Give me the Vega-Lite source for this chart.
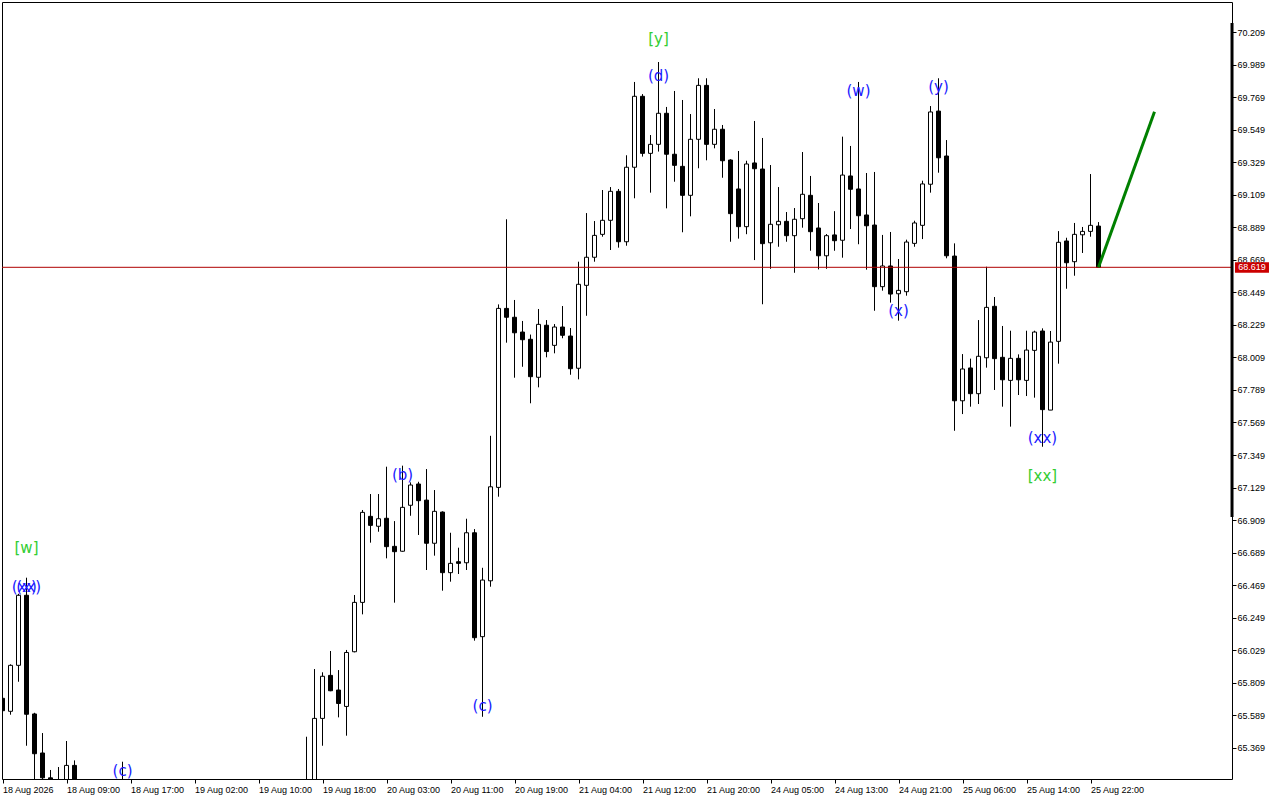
{
"$schema": "https://vega.github.io/schema/vega-lite/v6.json",
"width": 1230, "height": 777,
"autosize": {"type": "none"},
"padding": {"left": 2, "top": 2, "right": 48, "bottom": 21},
"background": "white",
"config": {"view": {"stroke": "black", "strokeWidth": 1}, "axis": {"labelOverlap": false}, "scale": {"continuousPadding": 0}},
"datasets": {
"candles": [
{"i":0,"o":65.703,"h":65.72,"l":65.60,"c":65.619},
{"i":1,"o":65.615,"h":65.933,"l":65.592,"c":65.926},
{"i":2,"o":65.926,"h":66.41,"l":65.815,"c":66.400},
{"i":3,"o":66.400,"h":66.519,"l":65.382,"c":65.595},
{"i":4,"o":65.597,"h":65.605,"l":65.05,"c":65.328},
{"i":5,"o":65.333,"h":65.468,"l":65.00,"c":65.165},
{"i":6,"o":65.165,"h":65.218,"l":64.95,"c":65.02},
{"i":7,"o":65.05,"h":65.238,"l":64.90,"c":65.10},
{"i":8,"o":65.10,"h":65.414,"l":65.05,"c":65.249},
{"i":9,"o":65.249,"h":65.283,"l":64.95,"c":65.10},
{"i":15,"o":65.05,"h":65.274,"l":64.90,"c":65.00},
{"i":38,"o":65.05,"h":65.443,"l":64.95,"c":65.12},
{"i":39,"o":65.12,"h":65.901,"l":65.05,"c":65.567},
{"i":40,"o":65.567,"h":65.879,"l":65.382,"c":65.852},
{"i":41,"o":65.858,"h":66.023,"l":65.751,"c":65.754},
{"i":42,"o":65.759,"h":65.894,"l":65.574,"c":65.668},
{"i":43,"o":65.648,"h":66.030,"l":65.450,"c":66.013},
{"i":44,"o":66.018,"h":66.402,"l":66.014,"c":66.352},
{"i":45,"o":66.352,"h":66.977,"l":66.271,"c":66.961},
{"i":46,"o":66.934,"h":67.085,"l":66.756,"c":66.873},
{"i":47,"o":66.867,"h":67.085,"l":66.830,"c":66.918},
{"i":48,"o":66.921,"h":67.270,"l":66.650,"c":66.729},
{"i":49,"o":66.731,"h":66.902,"l":66.350,"c":66.695},
{"i":50,"o":66.698,"h":67.277,"l":66.695,"c":66.995},
{"i":51,"o":67.009,"h":67.164,"l":66.938,"c":67.146},
{"i":52,"o":67.153,"h":67.168,"l":66.808,"c":67.040},
{"i":53,"o":67.044,"h":67.254,"l":66.571,"c":66.752},
{"i":54,"o":66.752,"h":67.112,"l":66.668,"c":66.968},
{"i":55,"o":66.963,"h":66.968,"l":66.431,"c":66.553},
{"i":56,"o":66.553,"h":66.823,"l":66.492,"c":66.616},
{"i":57,"o":66.627,"h":66.722,"l":66.544,"c":66.616},
{"i":58,"o":66.620,"h":66.918,"l":66.571,"c":66.823},
{"i":59,"o":66.823,"h":66.848,"l":66.093,"c":66.113},
{"i":60,"o":66.120,"h":66.586,"l":65.578,"c":66.503},
{"i":61,"o":66.498,"h":67.479,"l":66.458,"c":67.134},
{"i":62,"o":67.130,"h":68.368,"l":67.067,"c":68.341},
{"i":63,"o":68.341,"h":68.944,"l":68.109,"c":68.281},
{"i":64,"o":68.281,"h":68.398,"l":67.872,"c":68.176},
{"i":65,"o":68.181,"h":68.256,"l":67.946,"c":68.129},
{"i":66,"o":68.132,"h":68.164,"l":67.699,"c":67.879},
{"i":67,"o":67.875,"h":68.337,"l":67.807,"c":68.233},
{"i":68,"o":68.227,"h":68.262,"l":68.010,"c":68.049},
{"i":69,"o":68.091,"h":68.235,"l":68.037,"c":68.215},
{"i":70,"o":68.215,"h":68.357,"l":68.139,"c":68.159},
{"i":71,"o":68.154,"h":68.208,"l":67.892,"c":67.933},
{"i":72,"o":67.936,"h":68.657,"l":67.861,"c":68.504},
{"i":73,"o":68.497,"h":68.986,"l":68.291,"c":68.687},
{"i":74,"o":68.687,"h":68.932,"l":68.657,"c":68.835},
{"i":75,"o":68.842,"h":69.142,"l":68.826,"c":68.937},
{"i":76,"o":68.937,"h":69.162,"l":68.736,"c":69.133},
{"i":77,"o":69.133,"h":69.149,"l":68.752,"c":68.792},
{"i":78,"o":68.792,"h":69.377,"l":68.765,"c":69.296},
{"i":79,"o":69.296,"h":69.873,"l":69.086,"c":69.776},
{"i":80,"o":69.776,"h":69.791,"l":69.368,"c":69.390},
{"i":81,"o":69.390,"h":69.514,"l":69.124,"c":69.451},
{"i":82,"o":69.451,"h":70.008,"l":69.402,"c":69.661},
{"i":83,"o":69.661,"h":69.704,"l":69.018,"c":69.384},
{"i":84,"o":69.384,"h":69.812,"l":69.198,"c":69.309},
{"i":85,"o":69.302,"h":69.751,"l":68.856,"c":69.106},
{"i":86,"o":69.106,"h":69.656,"l":68.964,"c":69.485},
{"i":87,"o":69.485,"h":69.898,"l":69.289,"c":69.850},
{"i":88,"o":69.850,"h":69.898,"l":69.343,"c":69.451},
{"i":89,"o":69.451,"h":69.690,"l":69.424,"c":69.553},
{"i":90,"o":69.553,"h":69.582,"l":69.225,"c":69.340},
{"i":91,"o":69.345,"h":69.350,"l":68.792,"c":68.982},
{"i":92,"o":69.149,"h":69.406,"l":68.813,"c":68.894},
{"i":93,"o":68.894,"h":69.340,"l":68.843,"c":69.318},
{"i":94,"o":69.325,"h":69.609,"l":68.668,"c":69.286},
{"i":95,"o":69.284,"h":69.494,"l":68.369,"c":68.779},
{"i":96,"o":68.785,"h":69.311,"l":68.609,"c":68.910},
{"i":97,"o":68.907,"h":69.162,"l":68.758,"c":68.930},
{"i":98,"o":68.930,"h":68.993,"l":68.792,"c":68.833},
{"i":99,"o":68.833,"h":69.020,"l":68.582,"c":68.944},
{"i":100,"o":68.948,"h":69.399,"l":68.887,"c":69.113},
{"i":101,"o":69.106,"h":69.237,"l":68.731,"c":68.860},
{"i":102,"o":68.885,"h":69.054,"l":68.605,"c":68.697},
{"i":103,"o":68.697,"h":68.844,"l":68.609,"c":68.833},
{"i":104,"o":68.838,"h":68.999,"l":68.731,"c":68.799},
{"i":105,"o":68.802,"h":69.503,"l":68.684,"c":69.243},
{"i":106,"o":69.237,"h":69.440,"l":68.878,"c":69.147},
{"i":107,"o":69.149,"h":69.873,"l":68.775,"c":68.968},
{"i":108,"o":68.973,"h":69.257,"l":68.603,"c":68.900},
{"i":109,"o":68.905,"h":69.264,"l":68.325,"c":68.488},
{"i":110,"o":68.488,"h":68.838,"l":68.461,"c":68.628},
{"i":111,"o":68.628,"h":68.858,"l":68.380,"c":68.438},
{"i":112,"o":68.440,"h":68.675,"l":68.258,"c":68.463},
{"i":113,"o":68.454,"h":68.806,"l":68.427,"c":68.790},
{"i":114,"o":68.781,"h":68.934,"l":68.758,"c":68.919},
{"i":115,"o":68.903,"h":69.205,"l":68.810,"c":69.183},
{"i":116,"o":69.181,"h":69.710,"l":69.124,"c":69.670},
{"i":117,"o":69.676,"h":69.898,"l":69.259,"c":69.360},
{"i":118,"o":69.372,"h":69.480,"l":68.680,"c":68.697},
{"i":119,"o":68.695,"h":68.781,"l":67.513,"c":67.716},
{"i":120,"o":67.716,"h":68.032,"l":67.626,"c":67.931},
{"i":121,"o":67.938,"h":68.001,"l":67.676,"c":67.764},
{"i":122,"o":67.764,"h":68.262,"l":67.694,"c":68.017},
{"i":123,"o":68.007,"h":68.623,"l":67.940,"c":68.348},
{"i":124,"o":68.355,"h":68.418,"l":67.789,"c":68.001},
{"i":125,"o":68.010,"h":68.222,"l":67.676,"c":67.858},
{"i":126,"o":67.854,"h":68.190,"l":67.541,"c":68.003},
{"i":127,"o":68.003,"h":68.030,"l":67.755,"c":67.858},
{"i":128,"o":67.854,"h":68.190,"l":67.748,"c":68.059},
{"i":129,"o":68.057,"h":68.190,"l":67.737,"c":68.181},
{"i":130,"o":68.188,"h":68.206,"l":67.405,"c":67.656},
{"i":131,"o":67.653,"h":68.188,"l":67.653,"c":68.113},
{"i":132,"o":68.118,"h":68.864,"l":67.967,"c":68.788},
{"i":133,"o":68.797,"h":68.819,"l":68.474,"c":68.650},
{"i":134,"o":68.657,"h":68.919,"l":68.562,"c":68.842},
{"i":135,"o":68.839,"h":68.892,"l":68.716,"c":68.862},
{"i":136,"o":68.862,"h":69.250,"l":68.826,"c":68.903},
{"i":137,"o":68.898,"h":68.925,"l":68.619,"c":68.619}
],
"labels": [
{"i":3,"p":66.720,"t":"[w]","k":"g"},
{"i":3,"p":66.456,"t":"(x)","k":"b"},
{"i":3,"p":66.456,"t":"(xx)","k":"b"},
{"i":15,"p":65.214,"t":"(c)","k":"b"},
{"i":50,"p":67.214,"t":"(b)","k":"b"},
{"i":60,"p":65.651,"t":"(c)","k":"b"},
{"i":82,"p":69.913,"t":"(d)","k":"b"},
{"i":82,"p":70.164,"t":"[y]","k":"g"},
{"i":107,"p":69.812,"t":"(w)","k":"b"},
{"i":112,"p":68.323,"t":"(x)","k":"b"},
{"i":117,"p":69.839,"t":"(y)","k":"b"},
{"i":130,"p":67.464,"t":"(xx)","k":"b"},
{"i":130,"p":67.207,"t":"[xx]","k":"g"}
],
"proj": [{"i":137,"p":68.619},{"i":144,"p":69.672}],
"level": [{"p":68.619,"x1":154.06,"x2":158.31,"xm":156.18,"y1":68.653,"y2":68.583,"t":"68.619"}],
"bar": [{"i":153.69,"y1":70.272,"y2":66.930}]
},
"layer": [
{"data": {"name": "candles"}, "mark": {"type": "rule", "clip": true, "color": "black", "strokeWidth": 1},
 "encoding": {
  "x": {"field": "i", "type": "quantitative", "scale": {"domain": [-0.0625, 153.6875], "nice": false, "zero": false, "padding": 0},
   "axis": {"orient": "bottom", "values": [0,8,16,24,32,40,48,56,64,72,80,88,96,104,112,120,128,136], "tickCount": 200,
    "labelExpr": "['18 Aug 2026','18 Aug 09:00','18 Aug 17:00','19 Aug 02:00','19 Aug 10:00','19 Aug 18:00','20 Aug 03:00','20 Aug 11:00','20 Aug 19:00','21 Aug 04:00','21 Aug 12:00','21 Aug 20:00','24 Aug 05:00','24 Aug 13:00','24 Aug 21:00','25 Aug 06:00','25 Aug 14:00','25 Aug 22:00'][datum.value/8]",
    "labelAlign": "left", "labelBaseline": "top", "labelPadding": 2, "labelDx": 1, "tickSize": 4, "tickColor": "black",
    "labelFont": "Liberation Sans", "labelFontSize": 9, "labelColor": "black", "labelFlush": false, "labelOverlap": false,
    "domain": false, "grid": false, "title": null, "zindex": 0}},
  "y": {"field": "l", "type": "quantitative", "scale": {"domain": [65.157, 70.414], "nice": false, "zero": false, "padding": 0},
   "axis": {"orient": "right", "values": [65.369,65.589,65.809,66.029,66.249,66.469,66.689,66.909,67.129,67.349,67.569,67.789,68.009,68.229,68.449,68.669,68.889,69.109,69.329,69.549,69.769,69.989,70.209], "tickCount": 200,
    "format": ".3f", "tickSize": 4, "tickColor": "black", "labelPadding": 1, "labelFont": "Liberation Sans", "labelFontSize": 9, "labelColor": "black",
    "domain": false, "grid": false, "title": null, "labelOverlap": false, "labelFlush": false, "labelBound": false, "zindex": 0}},
  "y2": {"field": "h"}
 }},
{"data": {"name": "candles"}, "mark": {"type": "bar", "clip": true, "size": 4, "stroke": "black", "strokeWidth": 1},
 "encoding": {
  "x": {"field": "i", "type": "quantitative", "scale": {"domain": [-0.0625, 153.6875], "nice": false, "zero": false, "padding": 0}},
  "y": {"field": "o", "type": "quantitative", "scale": {"domain": [65.157, 70.414], "nice": false, "zero": false, "padding": 0}},
  "y2": {"field": "c"},
  "fill": {"condition": {"test": "datum.c >= datum.o", "value": "white"}, "value": "black"}
 }},
{"data": {"name": "level"}, "mark": {"type": "rule", "color": "#b00000", "strokeWidth": 1},
 "encoding": {
  "y": {"field": "p", "type": "quantitative", "scale": {"domain": [65.157, 70.414], "nice": false, "zero": false, "padding": 0}}
 }},
{"data": {"name": "proj"}, "mark": {"type": "line", "color": "#008000", "strokeWidth": 3, "clip": true},
 "encoding": {
  "x": {"field": "i", "type": "quantitative", "scale": {"domain": [-0.0625, 153.6875], "nice": false, "zero": false, "padding": 0}},
  "y": {"field": "p", "type": "quantitative", "scale": {"domain": [65.157, 70.414], "nice": false, "zero": false, "padding": 0}}
 }},
{"data": {"name": "labels"}, "mark": {"type": "text", "font": "DejaVu Sans", "fontSize": 15, "align": "center", "baseline": "middle"},
 "encoding": {
  "x": {"field": "i", "type": "quantitative", "scale": {"domain": [-0.0625, 153.6875], "nice": false, "zero": false, "padding": 0}},
  "y": {"field": "p", "type": "quantitative", "scale": {"domain": [65.157, 70.414], "nice": false, "zero": false, "padding": 0}},
  "text": {"field": "t"},
  "color": {"condition": {"test": "datum.k == 'g'", "value": "#32cd32"}, "value": "#1a1aff"}
 }},
{"data": {"name": "level"}, "mark": {"type": "rect", "color": "#cc0000", "clip": false},
 "encoding": {
  "x": {"field": "x1", "type": "quantitative", "scale": {"domain": [-0.0625, 153.6875], "nice": false, "zero": false, "padding": 0}},
  "x2": {"field": "x2"},
  "y": {"field": "y1", "type": "quantitative", "scale": {"domain": [65.157, 70.414], "nice": false, "zero": false, "padding": 0}},
  "y2": {"field": "y2"}
 }},
{"data": {"name": "level"}, "mark": {"type": "text", "color": "white", "font": "Liberation Sans", "fontSize": 9, "align": "center", "baseline": "middle", "clip": false},
 "encoding": {
  "x": {"field": "xm", "type": "quantitative", "scale": {"domain": [-0.0625, 153.6875], "nice": false, "zero": false, "padding": 0}},
  "y": {"field": "p", "type": "quantitative", "scale": {"domain": [65.157, 70.414], "nice": false, "zero": false, "padding": 0}},
  "text": {"field": "t"}
 }},
{"data": {"name": "bar"}, "mark": {"type": "rule", "color": "black", "strokeWidth": 3, "clip": false},
 "encoding": {
  "x": {"field": "i", "type": "quantitative", "scale": {"domain": [-0.0625, 153.6875], "nice": false, "zero": false, "padding": 0}},
  "y": {"field": "y1", "type": "quantitative", "scale": {"domain": [65.157, 70.414], "nice": false, "zero": false, "padding": 0}},
  "y2": {"field": "y2"}
 }}
]
}
